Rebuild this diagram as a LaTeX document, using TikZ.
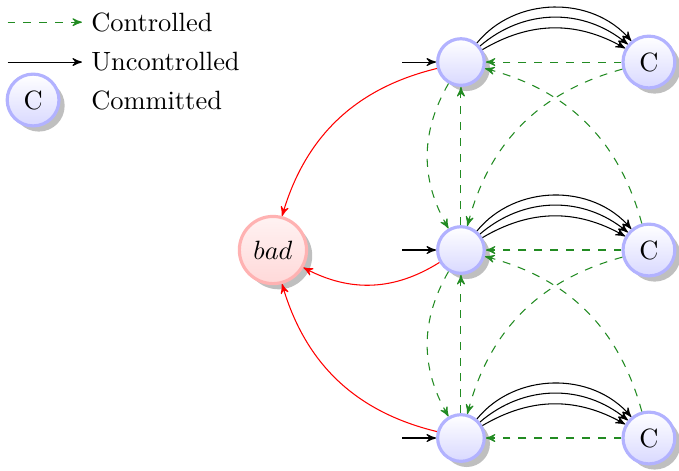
\documentclass[tikz,border=0pt]{standalone}
\usetikzlibrary{arrows,shadows,positioning}
\definecolor{ctrlgreen}{RGB}{34,139,34}

\begin{document}
\begin{tikzpicture}[
        >=stealth',
        state/.style={circle, draw=blue!30, line width=1.2pt, top color=white, bottom color=blue!15, drop shadow, minimum size=0.62cm},
        badstate/.style={circle, draw=red!30, line width=1.2pt, top color=red!5, bottom color=red!15, drop shadow},
        ctrl/.style={->,dashed,ctrlgreen},
        unctrl/.style={->},
        tobad/.style={->,red}
    ]
    \useasboundingbox (-3.63,-2.93) rectangle (5.40,3.325);

    % Leyenda
    \coordinate (legc) at (-3.53,3.03);
    \node[right] (ctrltxt) at (-2.54,3.03) {Controlled};
    \draw[ctrl] (legc) -- (ctrltxt);
    \coordinate (legu) at (-3.53,2.5);
    \node[right] (unctrltxt) at (-2.54,2.5) {Uncontrolled};
    \draw[unctrl] (legu) -- (unctrltxt);
    \node[state] (legcom) at (-3.19,1.995) {C};
    \node[right] (comtxt) at (-2.54,1.995) {Committed};

    % Estados
    \node[badstate] (bad) at (0,0) {$bad$};
    \node[state] (p1) at (2.5,2.5) {};
    \node[state] (p2) at (2.5,0) {};
    \node[state] (p3) at (2.5,-2.5) {};
    \node[state] (c1) at (5,2.5) {C};
    \node[state] (c2) at (5,0) {C};
    \node[state] (c3) at (5,-2.5) {C};

    % Estados iniciales
    \coordinate[left=0.45cm of p1] (s1);
    \coordinate[left=0.45cm of p2] (s2);
    \coordinate[left=0.45cm of p3] (s3);
    \draw[unctrl] (s1) -- (p1);
    \draw[unctrl] (s2) -- (p2);
    \draw[unctrl] (s3) -- (p3);

    % No controlables
    \draw[unctrl] (p1) to[bend left=30] (c1);
    \draw[unctrl] (p1) to[bend left=40] (c1);
    \draw[unctrl] (p1) to[bend left=50] (c1);
    \draw[unctrl] (p2) to[bend left=30] (c2);
    \draw[unctrl] (p2) to[bend left=40] (c2);
    \draw[unctrl] (p2) to[bend left=50] (c2);
    \draw[unctrl] (p3) to[bend left=30] (c3);
    \draw[unctrl] (p3) to[bend left=40] (c3);
    \draw[unctrl] (p3) to[bend left=50] (c3);

    % Controlables
    \draw[ctrl] (c1) -- (p1);
    \draw[ctrl] (c2) -- (p2);
    \draw[ctrl] (c3) -- (p3);
    \draw[ctrl] (c1) to[bend right=30] (p2);
    \draw[ctrl] (c2) to[bend right=30] (p1);
    \draw[ctrl] (c2) to[bend right=30] (p3);
    \draw[ctrl] (c3) to[bend right=30] (p2);
    \draw[ctrl] (p1) to[bend right=30] (p2);
    \draw[ctrl] (p2) to[bend right=30] (p3);
    \draw[ctrl] (p2) -- (p1);
    \draw[ctrl] (p3) -- (p2);

    % Hacia bad
    \draw[tobad] (p1) to[bend right=30] (bad);
    \draw[tobad] (p2) to[bend left=30] (bad);
    \draw[tobad] (p3) to[bend left=30] (bad);

\end{tikzpicture}
\end{document}
